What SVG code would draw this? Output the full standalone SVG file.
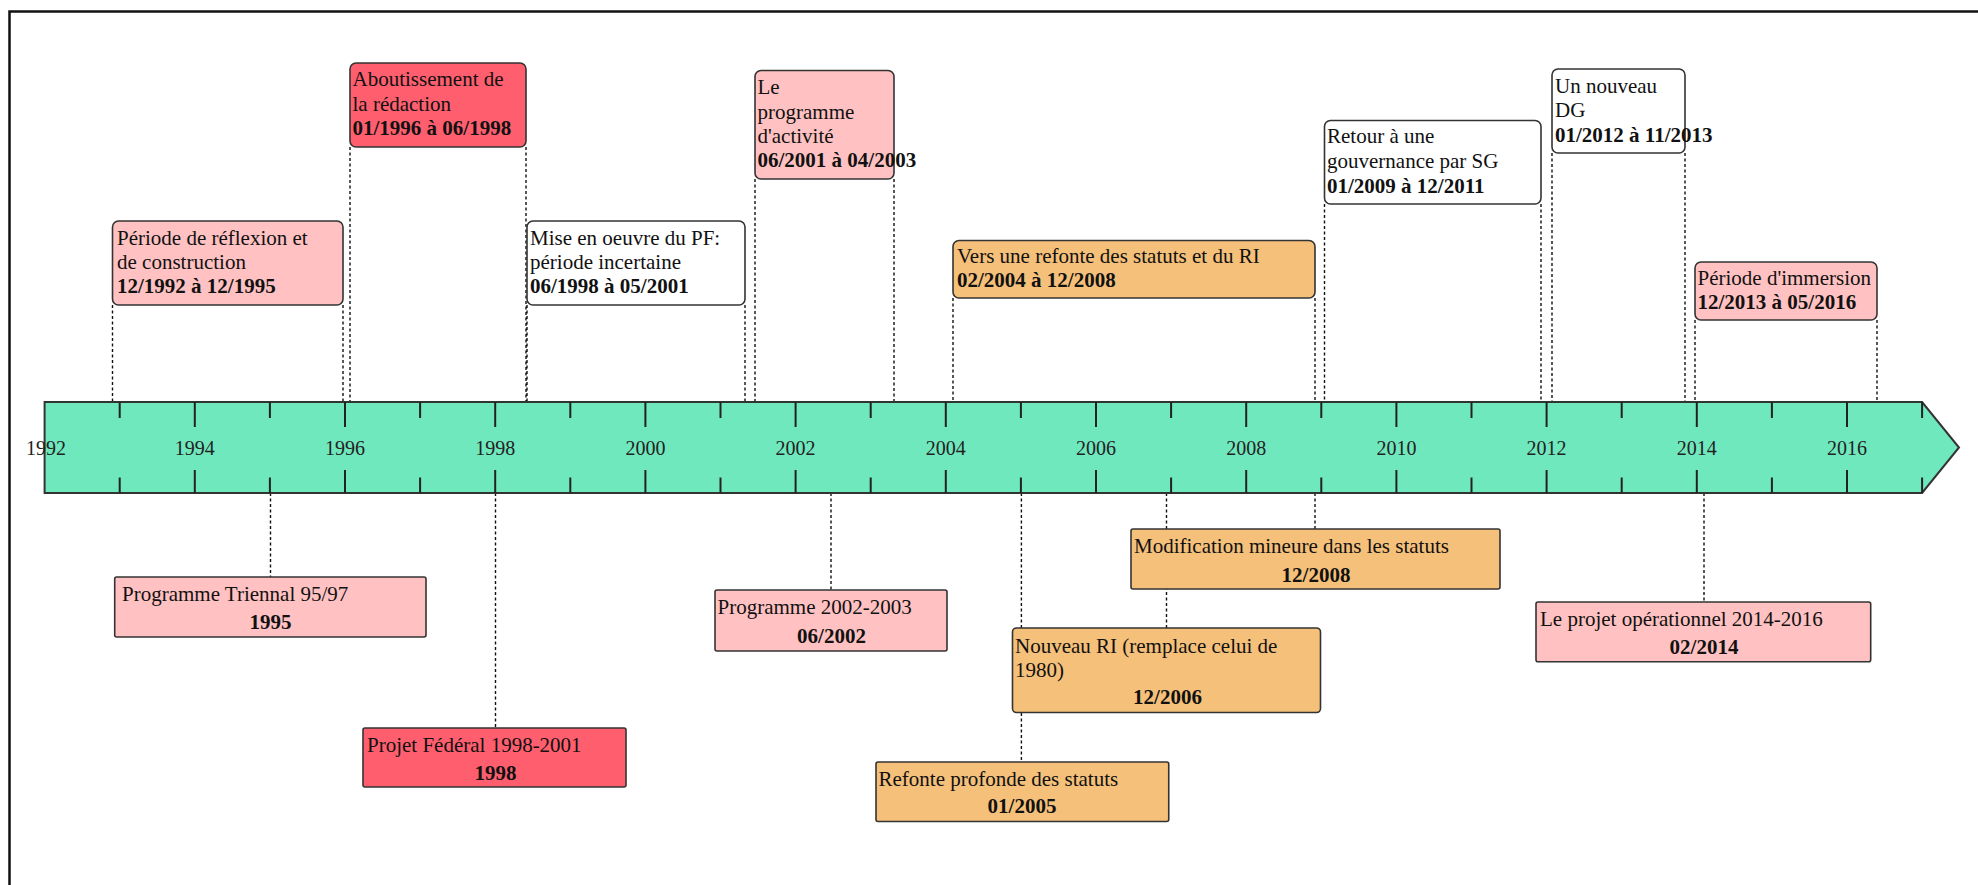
<svg xmlns="http://www.w3.org/2000/svg" width="1978" height="885" viewBox="0 0 1978 885">
<style>
.t{font-family:"Liberation Serif","Times New Roman",serif;font-size:21px;fill:#111}
.b{font-weight:bold}
.c{text-anchor:middle}
.yr{font-family:"Liberation Serif","Times New Roman",serif;font-size:20px;text-anchor:middle;fill:#222}
.box{stroke:#333;stroke-width:1.6}
.pink{fill:#FFC1C1}
.red{fill:#FF5E6E}
.orange{fill:#F5C07A}
.white{fill:#FFFFFF}
.dash{stroke:#111;stroke-width:1.4;stroke-dasharray:3 2.5;fill:none}
</style>
<rect x="0" y="0" width="1978" height="885" fill="#FFFFFF"/>
<rect id="frame" x="9.5" y="11.5" width="2000" height="900" fill="none" stroke="#111" stroke-width="2.5"/>

<g id="connectors">
  <path class="dash" d="M112.5 305V402 M343 305V402 M350 147V402 M526 147V402 M527 305V402 M745 305V402 M755 179V402 M894 179V402 M953 298V402 M1315 298V402 M1324.5 204V402 M1541 204V402 M1552 153V402 M1685 153V402 M1695 320V402 M1877 320V402"/>
  <path class="dash" d="M270.5 493V577 M495.5 493V728 M831 493V590 M1315 493V529 M1166.5 493V628 M1021.4 493V762 M1704 493V602"/>
</g>

<g id="timeline">
  <polygon points="44.6,402 1922.1,402 1959,447.5 1922.1,493 44.6,493" fill="#70E8BE" stroke="#333" stroke-width="2"/>
  <path stroke="#222" stroke-width="2" fill="none" d="M119.7 402V418M119.7 477.5V493 M269.9 402V418M269.9 477.5V493 M420.1 402V418M420.1 477.5V493 M570.3 402V418M570.3 477.5V493 M720.5 402V418M720.5 477.5V493 M870.7 402V418M870.7 477.5V493 M1020.9 402V418M1020.9 477.5V493 M1171.1 402V418M1171.1 477.5V493 M1321.3 402V418M1321.3 477.5V493 M1471.5 402V418M1471.5 477.5V493 M1621.7 402V418M1621.7 477.5V493 M1771.9 402V418M1771.9 477.5V493 M1922.1 402V418M1922.1 477.5V493 M194.8 402V427M194.8 470V493 M345 402V427M345 470V493 M495.2 402V427M495.2 470V493 M645.4 402V427M645.4 470V493 M795.6 402V427M795.6 470V493 M945.8 402V427M945.8 470V493 M1096 402V427M1096 470V493 M1246.2 402V427M1246.2 470V493 M1396.4 402V427M1396.4 470V493 M1546.6 402V427M1546.6 470V493 M1696.8 402V427M1696.8 470V493 M1847 402V427M1847 470V493"/>
  <text class="yr" x="46" y="455">1992</text>
  <text class="yr" x="194.8" y="455">1994</text>
  <text class="yr" x="345" y="455">1996</text>
  <text class="yr" x="495.2" y="455">1998</text>
  <text class="yr" x="645.4" y="455">2000</text>
  <text class="yr" x="795.6" y="455">2002</text>
  <text class="yr" x="945.8" y="455">2004</text>
  <text class="yr" x="1096" y="455">2006</text>
  <text class="yr" x="1246.2" y="455">2008</text>
  <text class="yr" x="1396.4" y="455">2010</text>
  <text class="yr" x="1546.6" y="455">2012</text>
  <text class="yr" x="1696.8" y="455">2014</text>
  <text class="yr" x="1847" y="455">2016</text>
</g>

<g id="p1">
  <rect class="box pink" x="112.5" y="221" width="230.5" height="84" rx="6"/>
  <text class="t" x="117" y="245">Période de réflexion et</text>
  <text class="t" x="117" y="269">de construction</text>
  <text class="t b" x="117" y="293">12/1992 à 12/1995</text>
</g>
<g id="p2">
  <rect class="box red" x="350" y="63" width="176" height="84" rx="6"/>
  <text class="t" x="352.5" y="86">Aboutissement de</text>
  <text class="t" x="352.5" y="110.5">la rédaction</text>
  <text class="t b" x="352.5" y="135">01/1996 à 06/1998</text>
</g>
<g id="p3">
  <rect class="box white" x="527" y="221" width="218" height="84" rx="6"/>
  <text class="t" x="530" y="245">Mise en oeuvre du PF:</text>
  <text class="t" x="530" y="269">période incertaine</text>
  <text class="t b" x="530" y="293">06/1998 à 05/2001</text>
</g>
<g id="p4">
  <rect class="box pink" x="755" y="70.5" width="139" height="108.5" rx="6"/>
  <text class="t" x="757.5" y="94">Le</text>
  <text class="t" x="757.5" y="118.5">programme</text>
  <text class="t" x="757.5" y="143">d'activité</text>
  <text class="t b" x="757.5" y="167">06/2001 à 04/2003</text>
</g>
<g id="p5">
  <rect class="box orange" x="953" y="240.5" width="362" height="57.5" rx="6"/>
  <text class="t" x="957" y="263">Vers une refonte des statuts et du RI</text>
  <text class="t b" x="957" y="287">02/2004 à 12/2008</text>
</g>
<g id="p6">
  <rect class="box white" x="1324.5" y="120.5" width="216.5" height="83.5" rx="6"/>
  <text class="t" x="1327" y="143">Retour à une</text>
  <text class="t" x="1327" y="168">gouvernance par SG</text>
  <text class="t b" x="1327" y="193">01/2009 à 12/2011</text>
</g>
<g id="p7">
  <rect class="box white" x="1552" y="69" width="133" height="84" rx="6"/>
  <text class="t" x="1555" y="93">Un nouveau</text>
  <text class="t" x="1555" y="117">DG</text>
  <text class="t b" x="1555" y="142">01/2012 à 11/2013</text>
</g>
<g id="p8">
  <rect class="box pink" x="1695" y="262" width="182" height="58" rx="6"/>
  <text class="t" x="1697.5" y="285">Période d'immersion</text>
  <text class="t b" x="1697.5" y="308.5">12/2013 à 05/2016</text>
</g>

<g id="e1">
  <rect class="box pink" x="114.7" y="577" width="311.3" height="60" rx="2"/>
  <text class="t" x="122" y="601">Programme Triennal 95/97</text>
  <text class="t b c" x="270.5" y="629">1995</text>
</g>
<g id="e2">
  <rect class="box red" x="363" y="728" width="263" height="59" rx="2"/>
  <text class="t" x="367" y="752">Projet Fédéral 1998-2001</text>
  <text class="t b c" x="495.5" y="779.5">1998</text>
</g>
<g id="e3">
  <rect class="box pink" x="715" y="590" width="232" height="61" rx="2"/>
  <text class="t" x="717.5" y="614">Programme 2002-2003</text>
  <text class="t b c" x="831.5" y="643">06/2002</text>
</g>
<g id="e4">
  <rect class="box orange" x="1131" y="529" width="369" height="60" rx="2"/>
  <text class="t" x="1134" y="553">Modification mineure dans les statuts</text>
  <text class="t b c" x="1316" y="582">12/2008</text>
</g>
<g id="e5">
  <rect class="box orange" x="1012.5" y="628" width="308" height="84.5" rx="4"/>
  <text class="t" x="1015" y="653">Nouveau RI (remplace celui de</text>
  <text class="t" x="1015" y="677">1980)</text>
  <text class="t b c" x="1167.5" y="704">12/2006</text>
</g>
<g id="e6">
  <rect class="box orange" x="876" y="762" width="292.75" height="59.5" rx="2"/>
  <text class="t" x="878.5" y="786">Refonte profonde des statuts</text>
  <text class="t b c" x="1022" y="813">01/2005</text>
</g>
<g id="e7">
  <rect class="box pink" x="1536" y="602" width="334.7" height="59.7" rx="2"/>
  <text class="t" x="1540" y="626">Le projet opérationnel 2014-2016</text>
  <text class="t b c" x="1704" y="654">02/2014</text>
</g>
</svg>
